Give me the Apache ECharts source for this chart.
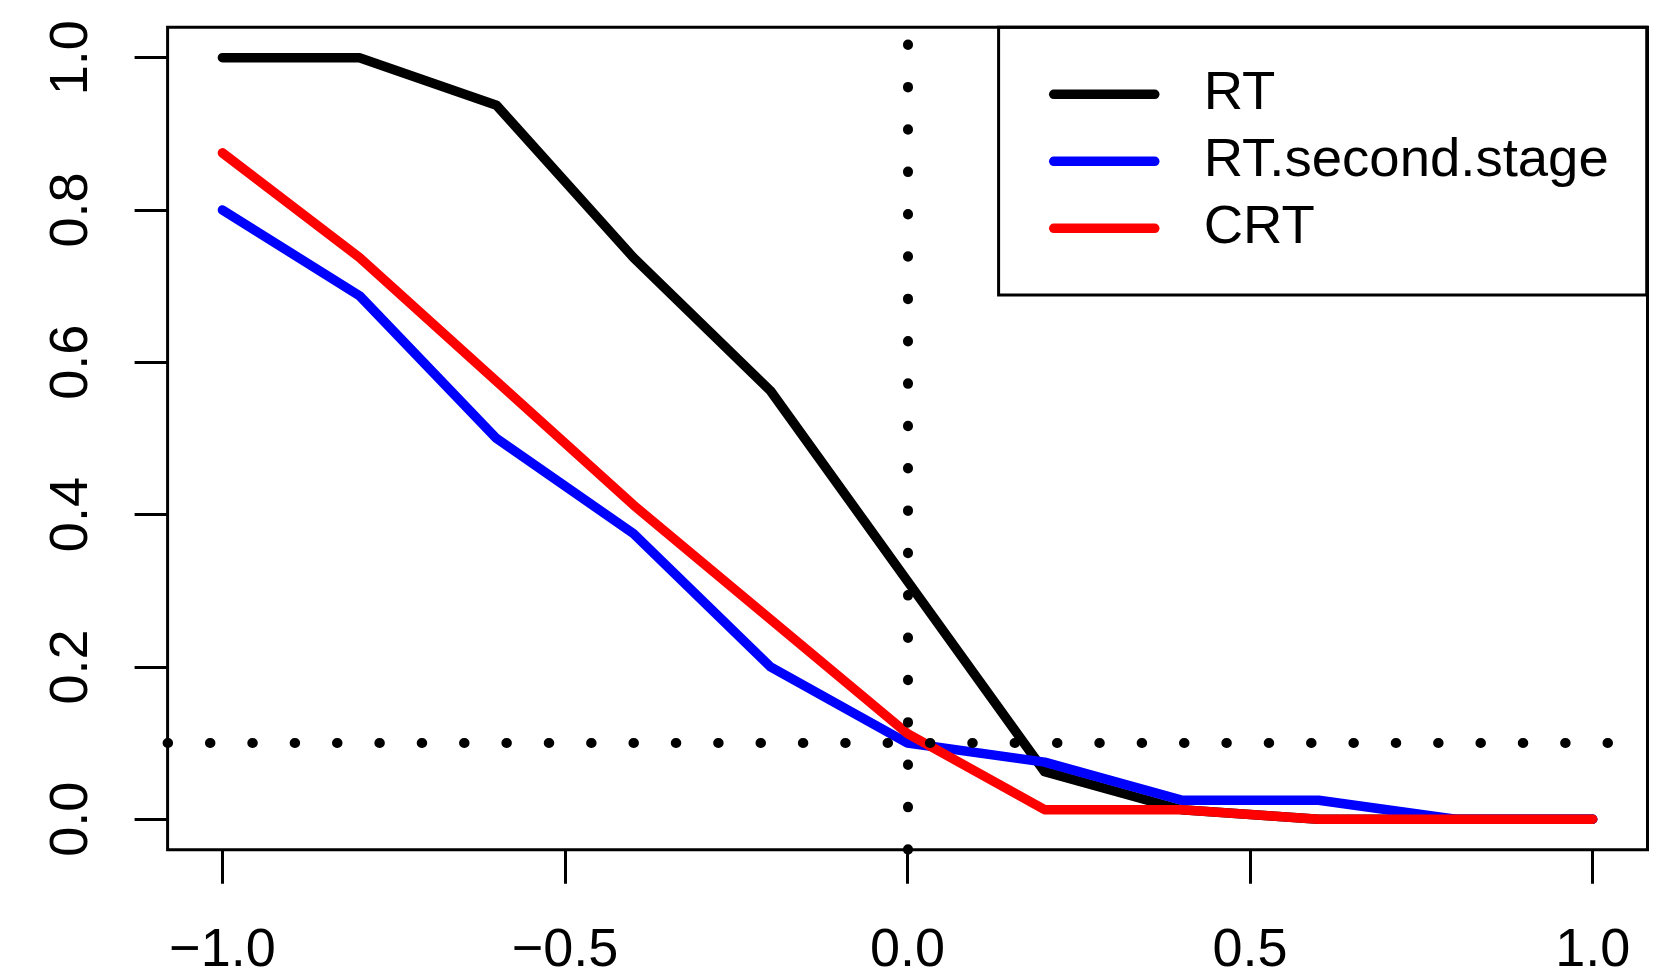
<!DOCTYPE html>
<html>
<head>
<meta charset="utf-8">
<script src="https://cdn.jsdelivr.net/npm/echarts@6/dist/echarts.min.js"></script>
<style>
html,body{margin:0;padding:0;background:#fff;}
#chart{width:1674px;height:975px;}
</style>
</head>
<body>
<div id="chart"></div>
<script>
// ---- data ----
const xValues = [-1.0, -0.8, -0.6, -0.4, -0.2, 0.0, 0.2, 0.4, 0.6, 0.8, 1.0];
const seriesNames = ['RT', 'RT.second.stage', 'CRT'];
const rtValues    = [1.0, 1.0, 0.9375, 0.7375, 0.5625, 0.3125, 0.0625, 0.0125, 0, 0, 0];
const rt2Values   = [0.8, 0.6875, 0.5, 0.375, 0.2, 0.1, 0.075, 0.025, 0.025, 0, 0];
const crtValues   = [0.875, 0.7375, 0.575, 0.4125, 0.2625, 0.1125, 0.0125, 0.0125, 0, 0, 0];
const xTicks = [-1.0, -0.5, 0.0, 0.5, 1.0];
const yTicks = [0.0, 0.2, 0.4, 0.6, 0.8, 1.0];
const refX = 0.0;
const refY = 0.1;

const FONT = "'Liberation Sans', Arial, Helvetica, sans-serif";
const LW = 9.5;
const fmt = v => Number(v).toFixed(1).replace('-', '\u2212');
const zip = vals => xValues.map((x, i) => [x, vals[i]]);

const chart = echarts.init(document.getElementById('chart'), null, {renderer: 'canvas'});
const lineSeries = (name, vals, color, extra) => Object.assign({
  type: 'line',
  name: name,
  data: zip(vals),
  symbol: 'none',
  showSymbol: false,
  silent: true,
  animation: false,
  lineStyle: {color: color, width: LW, cap: 'round', join: 'round'},
  itemStyle: {color: color},
  emphasis: {disabled: true}
}, extra || {});

chart.setOption({
  animation: false,
  backgroundColor: '#fff',
  grid: {
    left: 167.6, right: 26.5, top: 27.2, bottom: 125.3,
    containLabel: false, outerBoundsMode: 'none',
    show: true, borderColor: '#000', borderWidth: 3, backgroundColor: 'transparent'
  },
  xAxis: {
    type: 'value', min: -1.08, max: 1.08,
    axisLine: {show: false, onZero: false},
    splitLine: {show: false},
    axisTick: {show: true, length: 34, customValues: xTicks, lineStyle: {color: '#000', width: 3}},
    axisLabel: {customValues: xTicks, formatter: fmt, margin: 74.5, color: '#000',
      fontSize: 54, fontFamily: FONT}
  },
  yAxis: {
    type: 'value', min: -0.04, max: 1.04,
    axisLine: {show: false, onZero: false},
    splitLine: {show: false},
    axisTick: {show: true, length: 33, customValues: yTicks, lineStyle: {color: '#000', width: 3}},
    axisLabel: {customValues: yTicks, formatter: fmt, margin: 68, rotate: 90, color: '#000',
      fontSize: 54, fontFamily: FONT}
  },
  legend: {
    data: seriesNames,
    orient: 'vertical',
    left: 998.6, top: 27.3,
    selectedMode: false,
    borderColor: '#000', borderWidth: 3, borderRadius: 0,
    padding: [33.5, 38, 33.2, 50.4],
    itemGap: 0,
    itemWidth: 101, itemHeight: 8,
    lineStyle: {width: LW, cap: 'round'},
    textStyle: {fontSize: 54.5, fontFamily: FONT, color: '#000', lineHeight: 53, padding: [14, 0, 0, 44]}
  },
  series: [
    lineSeries(seriesNames[0], rtValues, '#000000'),
    lineSeries(seriesNames[1], rt2Values, '#0000FF'),
    lineSeries(seriesNames[2], crtValues, '#FF0000', {
      markLine: {
        silent: true, animation: false, symbol: 'none', z: 10,
        label: {show: false},
        emphasis: {disabled: true},
        lineStyle: {color: '#000', width: 10, type: [0.5, 41.85], cap: 'round'},
        data: [{xAxis: refX}, {yAxis: refY}]
      }
    })
  ]
});
</script>
</body>
</html>
